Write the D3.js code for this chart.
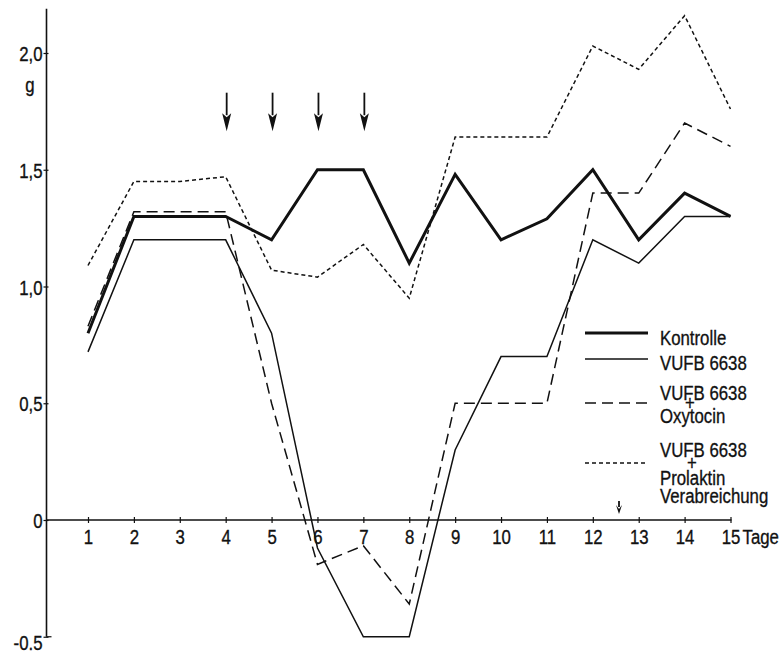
<!DOCTYPE html>
<html>
<head>
<meta charset="utf-8">
<script src="https://cdn.jsdelivr.net/npm/d3@7"></script>
<style>
  body { margin: 0; background: #fff; }
  svg text { font-family: "Liberation Sans", Arial, sans-serif; font-size: 21px; fill: #111; stroke: #111; stroke-width: 0.35px; }
</style>
</head>
<body>
<div id="chart"></div>
<script>
// days on the x axis
var days = [1, 2, 3, 4, 5, 6, 7, 8, 9, 10, 11, 12, 13, 14, 15];

// weight in g
var kontrolle = [0.8, 1.3, 1.3, 1.3, 1.2, 1.5, 1.5, 1.1, 1.48, 1.2, 1.29, 1.5, 1.2, 1.4, 1.3];
var vufb      = [0.72, 1.2, 1.2, 1.2, 0.8, -0.12, -0.5, -0.5, 0.3, 0.7, 0.7, 1.2, 1.1, 1.3, 1.3];
var oxytocin  = [0.83, 1.32, 1.32, 1.32, 0.5, -0.19, -0.11, -0.36, 0.5, 0.5, 0.5, 1.4, 1.4, 1.7, 1.6];
var prolaktin = [1.09, 1.45, 1.45, 1.47, 1.07, 1.04, 1.18, 0.95, 1.64, 1.64, 1.64, 2.03, 1.93, 2.16, 1.76];

// days with an arrow (administration)
var arrowDays = [4, 5, 6, 7];

var yTicks = [-0.5, 0, 0.5, 1, 1.5, 2];
var yTickLabels = ["-0.5", "0", "0,5", "1,0", "1,5", "2,0"];

var width = 783, height = 654;

var svg = d3.select("#chart")
    .append("svg")
    .attr("width", width)
    .attr("height", height);

var x = d3.scaleLinear()
    .domain([1, 15])
    .range([88, 730.5]);

var y = d3.scaleLinear()
    .domain([0, 2])
    .range([520, 53]);

var x0 = 46.5;

// Y axis
var yAxis = d3.axisLeft(y)
    .tickValues(yTicks)
    .tickSize(3)
    .tickPadding(1)
    .tickFormat(function (d, i) { return yTickLabels[i]; });

var gy = svg.append("g")
    .attr("transform", "translate(" + x0 + ",0)")
    .call(yAxis);
gy.select(".domain").remove();
gy.selectAll("line").attr("x1", 2).attr("x2", -3).attr("stroke", "#111").attr("stroke-width", 1.2);
gy.selectAll("text").style("font-size", "21px").attr("dy", "0.36em");
gy.selectAll(".tick").filter(function (d) { return d === -0.5; })
    .select("text").attr("dy", "0.62em");

// y axis line, running a bit above 2,0
svg.append("line")
    .attr("x1", x0).attr("x2", x0)
    .attr("y1", y(2.19)).attr("y2", y(-0.5))
    .attr("stroke", "#111").attr("stroke-width", 1.6);
svg.append("line")
    .attr("x1", x0).attr("x2", x0 + 5)
    .attr("y1", y(-0.5)).attr("y2", y(-0.5))
    .attr("stroke", "#111").attr("stroke-width", 1.2);

// unit
svg.append("text")
    .attr("x", 30).attr("y", 92)
    .attr("text-anchor", "middle")
    .text("g");

// X axis on zero
var xAxis = d3.axisBottom(x)
    .tickValues(days)
    .tickSize(3)
    .tickPadding(6)
    .tickFormat(function (d) { return d; });

var gx = svg.append("g")
    .attr("transform", "translate(0," + y(0) + ")")
    .call(xAxis);
gx.select(".domain").remove();
gx.selectAll("line").attr("y1", -3).attr("y2", 3).attr("stroke", "#111").attr("stroke-width", 1.2);
gx.selectAll("text").style("font-size", "21px");

svg.append("line")
    .attr("x1", x0).attr("x2", x(15) + 1)
    .attr("y1", y(0)).attr("y2", y(0))
    .attr("stroke", "#111").attr("stroke-width", 1.3);

svg.append("text")
    .attr("x", x(15) + 12)
    .attr("y", y(0) + 24)
    .text("Tage");

// series
var series = [
    { name: "kontrolle", values: kontrolle, width: 3, dash: null },
    { name: "vufb", values: vufb, width: 1.5, dash: null },
    { name: "oxytocin", values: oxytocin, width: 1.5, dash: "11,6" },
    { name: "prolaktin", values: prolaktin, width: 1.5, dash: "4,3" }
];

var line = d3.line()
    .x(function (d, i) { return x(days[i]); })
    .y(function (d) { return y(d); });

svg.selectAll(".series")
    .data(series)
    .enter()
    .append("path")
    .attr("class", "series")
    .attr("d", function (d) { return line(d.values); })
    .attr("fill", "none")
    .attr("stroke", "#111")
    .attr("stroke-width", function (d) { return d.width; })
    .attr("stroke-dasharray", function (d) { return d.dash; })
    .attr("stroke-linejoin", "miter");

// arrows
function arrow(g, cx, yTop, yTip, head, halfW) {
    g.append("line")
        .attr("x1", cx).attr("x2", cx)
        .attr("y1", yTop).attr("y2", yTip - head + 2)
        .attr("stroke", "#111").attr("stroke-width", 1.8);
    g.append("path")
        .attr("d", "M" + (cx - halfW) + "," + (yTip - head) + "L" + cx + "," + yTip + "L" + (cx + halfW) + "," + (yTip - head) + "L" + cx + "," + (yTip - head + 4) + "Z")
        .attr("fill", "#111");
}

var ga = svg.append("g");
arrowDays.forEach(function (d) {
    arrow(ga, x(d) + 1, y(1.83), y(1.665), 18, 4.5);
});

// legend
var lx1 = 585, lx2 = 648, tx = 660;
var legend = svg.append("g");

legend.append("line").attr("x1", lx1).attr("x2", lx2).attr("y1", 333).attr("y2", 333)
    .attr("stroke", "#111").attr("stroke-width", 3);
legend.append("text").attr("x", tx).attr("y", 345).text("Kontrolle");

legend.append("line").attr("x1", lx1).attr("x2", lx2).attr("y1", 359).attr("y2", 359)
    .attr("stroke", "#111").attr("stroke-width", 1.5);
legend.append("text").attr("x", tx).attr("y", 370).text("VUFB 6638");

legend.append("line").attr("x1", lx1).attr("x2", lx2).attr("y1", 403).attr("y2", 403)
    .attr("stroke", "#111").attr("stroke-width", 1.5).attr("stroke-dasharray", "11,6");
legend.append("text").attr("x", tx).attr("y", 400).text("VUFB 6638");
legend.append("text").attr("x", 690).attr("y", 410).attr("text-anchor", "middle")
    .style("font-size", "21px").text("+");
legend.append("text").attr("x", tx).attr("y", 423).text("Oxytocin");

legend.append("line").attr("x1", lx1).attr("x2", lx2).attr("y1", 463).attr("y2", 463)
    .attr("stroke", "#111").attr("stroke-width", 1.5).attr("stroke-dasharray", "4,3");
legend.append("text").attr("x", tx).attr("y", 457).text("VUFB 6638");
legend.append("text").attr("x", 692).attr("y", 470).attr("text-anchor", "middle")
    .style("font-size", "21px").text("+");
legend.append("text").attr("x", tx).attr("y", 485).text("Prolaktin");

arrow(legend, 619, 501, 514, 9, 3);
legend.append("text").attr("x", tx).attr("y", 503).text("Verabreichung");

// the lettering of the original is condensed: squeeze every text around its anchor
svg.selectAll("text").each(function () {
    var t = d3.select(this);
    var ax = +t.attr("x") || 0;
    t.attr("transform", "translate(" + ax + ",0) scale(0.8,1) translate(" + (-ax) + ",0)");
});
</script>
</body>
</html>
